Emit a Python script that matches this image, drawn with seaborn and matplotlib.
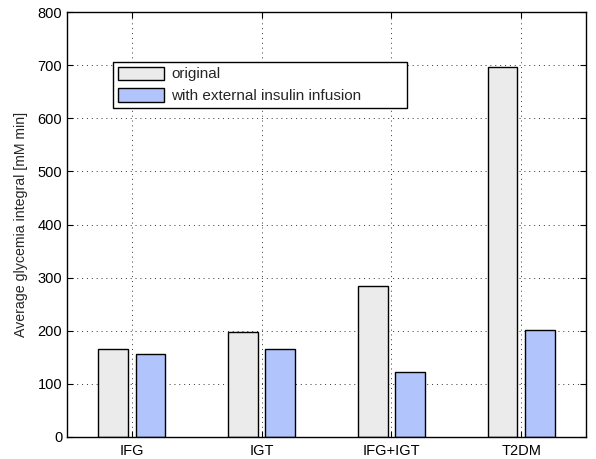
import matplotlib
matplotlib.use("Agg")
import matplotlib.pyplot as plt
import seaborn as sns
import pandas as pd

categories = ["IFG", "IGT", "IFG+IGT", "T2DM"]
series_names = ["original", "with external insulin infusion"]
original_values = [165, 198, 285, 697]
insulin_values = [156, 166, 123, 201]
yticks = [0, 100, 200, 300, 400, 500, 600, 700, 800]
ylabel = "Average glycemia integral [mM min]"

df = pd.DataFrame({
    "category": categories * 2,
    "series": [series_names[0]] * len(categories) + [series_names[1]] * len(categories),
    "value": original_values + insulin_values,
})

sns.set_theme(style="white")
plt.rcParams["font.family"] = ["Liberation Sans", "DejaVu Sans"]

fig = plt.figure(figsize=(5.96, 4.59), dpi=100)
ax = fig.add_axes([67 / 596, 22 / 459, 519 / 596, 425 / 459])

palette = {series_names[0]: "#ebebeb", series_names[1]: "#b1c5fc"}
sns.barplot(data=df, x="category", y="value", hue="series", order=categories,
            hue_order=series_names, palette=palette, width=0.572, gap=0.2,
            edgecolor="black", linewidth=1.0, saturation=1, ax=ax, errorbar=None)

ax.set_xlim(-0.5, 3.5)
ax.set_ylim(0, 800)
ax.set_yticks(yticks)
ax.set_yticklabels([str(t) for t in yticks])
ax.set_xlabel("")
ax.set_ylabel(ylabel, fontsize=10.2, labelpad=7)
ax.tick_params(axis="both", direction="in", length=4, width=0.8, labelsize=10.5,
               top=True, right=True, bottom=True, left=True, colors="black")
ax.tick_params(axis="x", pad=5)
ax.set_axisbelow(True)
ax.grid(True, linestyle=(0, (1, 4)), color="#333333", linewidth=0.7)
for s in ax.spines.values():
    s.set_visible(True)
    s.set_color("black")
    s.set_linewidth(1.0)

leg = ax.legend(loc="upper left", bbox_to_anchor=(46 / 519, 0.777, 294 / 519, 0.106),
                mode="expand", borderaxespad=0, fontsize=11, handlelength=3.05,
                handleheight=0.95, handletextpad=0.45, borderpad=0.32, labelspacing=0.45,
                fancybox=False, framealpha=1, edgecolor="black")
leg.get_frame().set_linewidth(1.0)

fig.savefig("out.png", dpi=100)
